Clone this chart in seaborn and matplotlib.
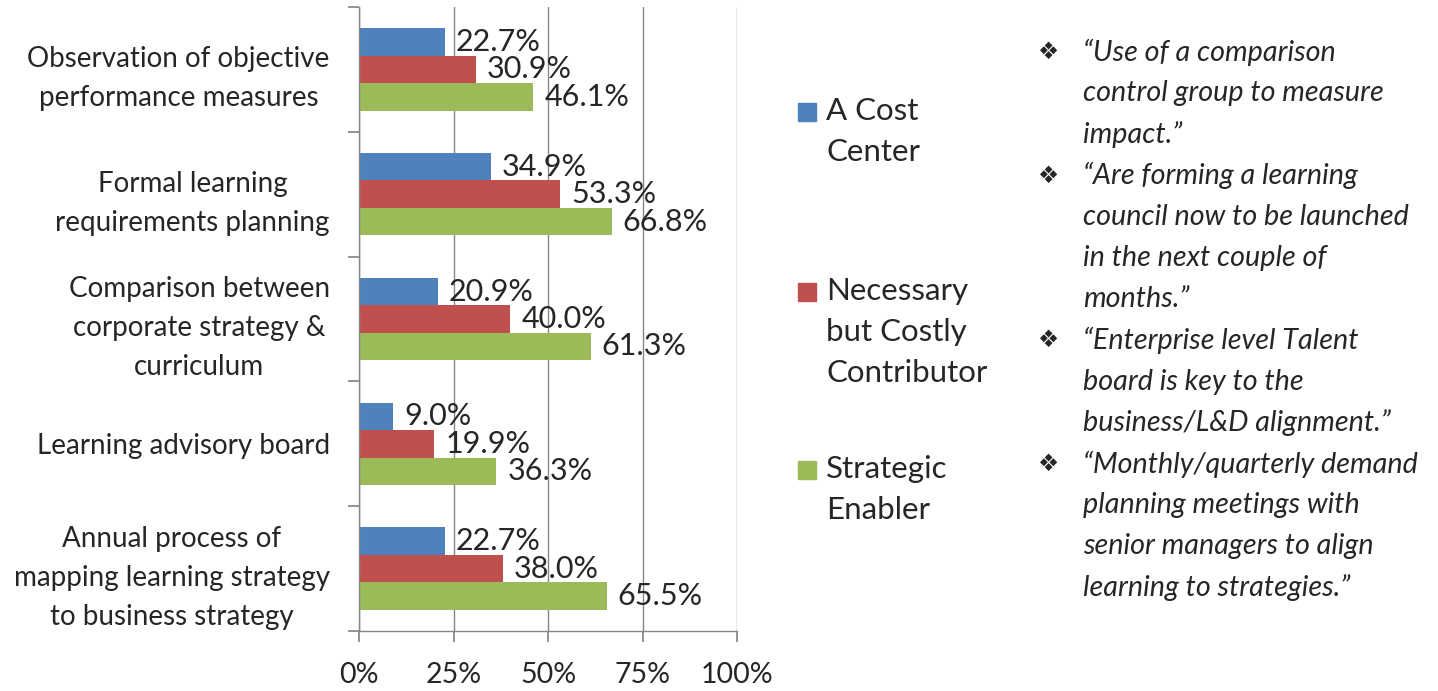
import pandas as pd
import matplotlib.pyplot as plt
from matplotlib.patches import Rectangle
import seaborn as sns

categories = [
    "Observation of objective\nperformance measures",
    "Formal learning\nrequirements planning",
    "Comparison between\ncorporate strategy &\ncurriculum",
    "Learning advisory board",
    "Annual process of\nmapping learning strategy\nto business strategy",
]
series = ["A Cost\nCenter", "Necessary\nbut Costly\nContributor", "Strategic\nEnabler"]
cost_center = [22.7, 34.9, 20.9, 9.0, 22.7]
necessary = [30.9, 53.3, 40.0, 19.9, 38.0]
strategic = [46.1, 66.8, 61.3, 36.3, 65.5]
colors = ["#4F81BD", "#C0504D", "#9BBB59"]
x_ticks = [0, 25, 50, 75, 100]

quotes = [
    ["\u201cUse of a comparison", "control group to measure", "impact.\u201d"],
    ["\u201cAre forming a learning", "council now to be launched", "in the next couple of", "months.\u201d"],
    ["\u201cEnterprise level Talent", "board is key to the", "business/L&D alignment.\u201d"],
    ["\u201cMonthly/quarterly demand", "planning meetings with", "senior managers to align", "learning to strategies.\u201d"],
]

rows = []
for name, vals in zip(series, [cost_center, necessary, strategic]):
    for cat, v in zip(categories, vals):
        rows.append({"category": cat, "series": name, "value": v})
df = pd.DataFrame(rows)

sns.set_theme(style="white")
plt.rcParams["font.family"] = ["Lato", "DejaVu Sans"]

fig = plt.figure(figsize=(14.38, 6.91), dpi=100)
ax = fig.add_axes([359 / 1438, 1 - 631 / 691, (737 - 359) / 1438, (631 - 7) / 691])

sns.barplot(data=df, y="category", x="value", hue="series", palette=colors,
            width=0.66, orient="h", saturation=1, linewidth=0, legend=False, ax=ax)

for cont, vals in zip(ax.containers, [cost_center, necessary, strategic]):
    ax.bar_label(cont, labels=[f"{v:.1f}%" for v in vals], padding=8, fontsize=22)

ax.set_xlim(0, 100)
ax.set_ylim(len(categories) - 0.5, -0.5)
ax.set_xticks(x_ticks)
ax.set_xticklabels([f"{t}%" for t in x_ticks], fontsize=20.5)
ax.set_yticks([i - 0.5 for i in range(len(categories) + 1)])
ax.set_yticklabels([])
ax.set_yticks(range(len(categories)), minor=True)
ax.set_yticklabels(categories, minor=True, fontsize=20, multialignment="center", linespacing=1.62)
ax.tick_params(axis="y", which="major", length=8, color="#868686", direction="out", left=True)
ax.tick_params(axis="y", which="minor", length=0, pad=21)
ax.tick_params(axis="x", length=8, color="#868686", direction="out", bottom=True, pad=14)
ax.set_xlabel("")
ax.set_ylabel("")
ax.grid(axis="x", color="#868686", linewidth=1)
ax.grid(axis="y", visible=False)
for side in ["top", "right"]:
    ax.spines[side].set_visible(False)
for side in ["left", "bottom"]:
    ax.spines[side].set_color("#868686")
    ax.spines[side].set_linewidth(1)

# legend drawn by hand so the square sits on the first line
legend_tops = [103, 283, 461]
for name, col, top in zip(series, colors, legend_tops):
    fig.patches.append(Rectangle((798 / 1438, 1 - (top + 18) / 691), 18 / 1438, 18 / 691,
                                 transform=fig.transFigure, color=col))
    fig.text(826 / 1438, 1 - (top - 6) / 691, name, fontsize=22.5, va="top", ha="left",
             linespacing=1.57)

# quotes on the right
line = 0
for q in quotes:
    for j, txt in enumerate(q):
        y = 1 - (52 + line * 41.2) / 691
        if j == 0:
            fig.text(1048 / 1438, y, "\u2756", fontsize=17, va="center", ha="center",
                     family="DejaVu Sans")
        fig.text(1083 / 1438, y, txt, fontsize=20.7, style="italic", va="center", ha="left")
        line += 1

fig.savefig("out.png", dpi=100)
